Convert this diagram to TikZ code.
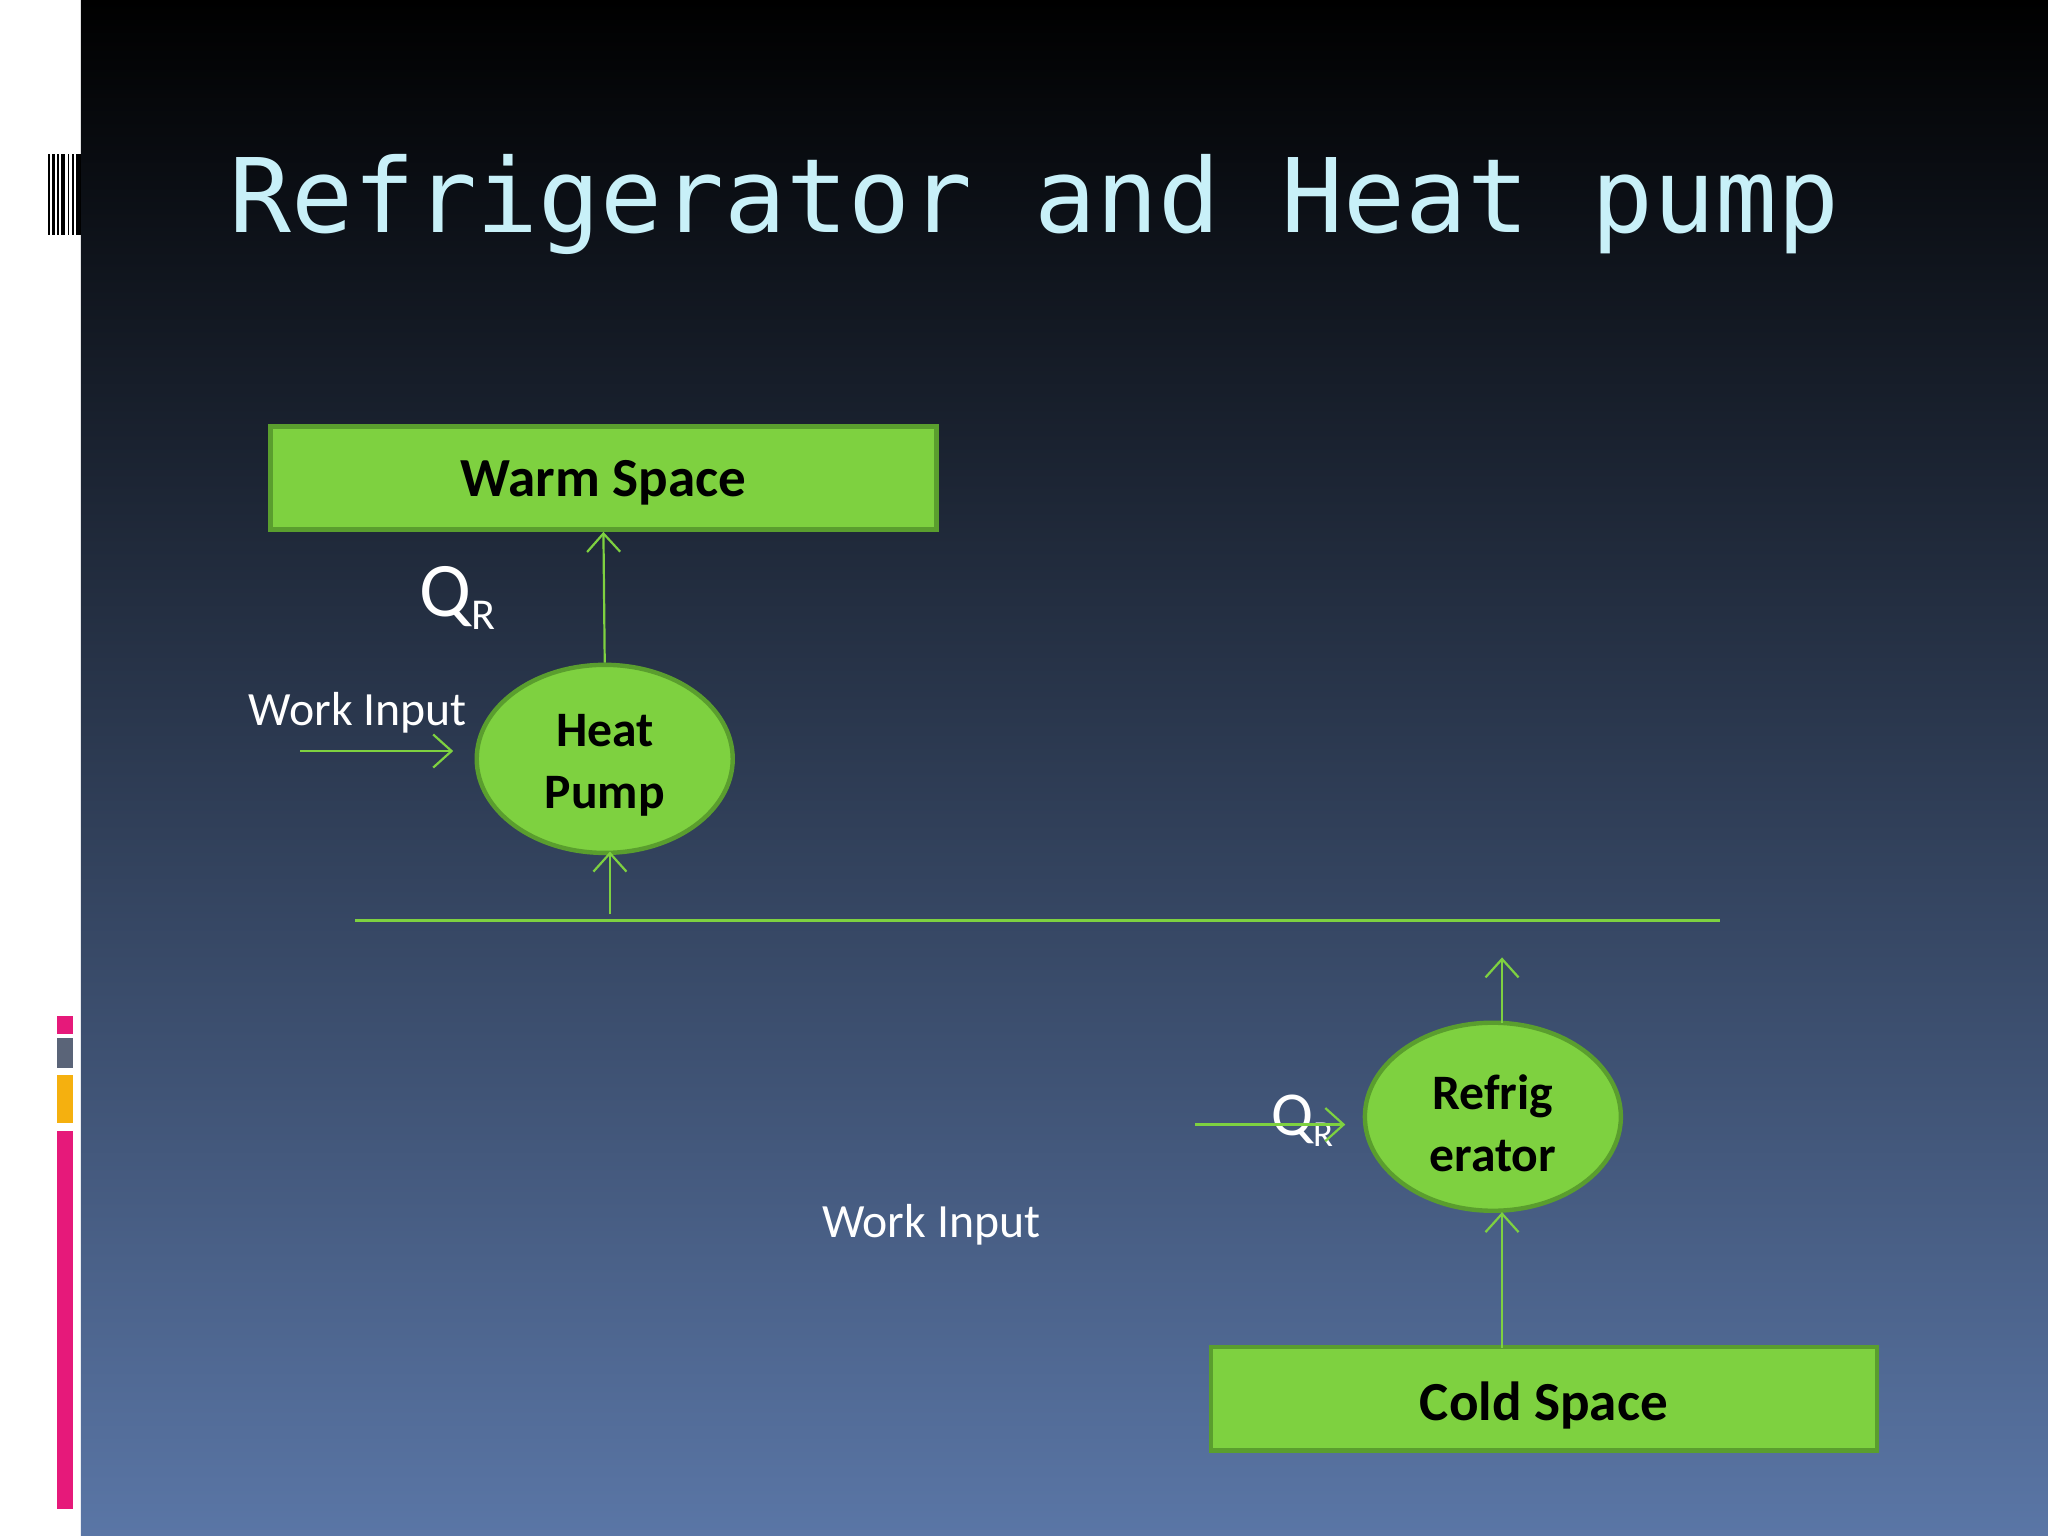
\documentclass[tikz,border=0pt]{standalone}
\usepackage{fontspec}
\setmainfont{Carlito}
\newfontfamily\titlefont{DejaVu Sans Mono}
\usetikzlibrary{arrows.meta,shapes.geometric}
\definecolor{gfill}{HTML}{7ED140}
\definecolor{gline}{HTML}{5A9E2E}
\definecolor{ttl}{HTML}{C8F0F8}
\definecolor{bgbot}{HTML}{5A76A6}
\definecolor{pinkc}{HTML}{E6197A}
\definecolor{grayc}{HTML}{5A6478}
\definecolor{orc}{HTML}{F5B00F}
\newcommand{\subR}[1]{\raisebox{-0.35ex}{\fontsize{#1}{#1}\selectfont R}}
\tikzset{
 box/.style={draw=gline,line width=1.2pt,fill=gfill,minimum width=510*0.0125cm,minimum height=79*0.0125cm,font=\fontsize{15}{18}\selectfont\bfseries},
 oval/.style={ellipse,draw=gline,line width=1.2pt,fill=gfill,minimum width=196*0.0125cm,minimum height=144*0.0125cm,align=center,font=\fontsize{13.5}{17}\selectfont\bfseries},
 arr/.style={draw=gfill,line width=0.6pt,-{Straight Barb[length=5pt,width=9pt]}},
 wlab/.style={text=white,font=\fontsize{13}{15}\selectfont},
}
\begin{document}
\begin{tikzpicture}[x=0.0125cm,y=-0.0125cm]
\useasboundingbox (0,0) rectangle (1568,1176);
\fill[white] (0,0) rectangle (62,1176);
\shade[top color=black,bottom color=bgbot,middle color={rgb:black,1;bgbot,1}] (62,0) rectangle (1568,1176);
\foreach \x/\w in {37/1,40/2,44/1,47/3,52/1,55/2,58/4}{\fill[black] (\x,118) rectangle (\x+\w,180);}
\fill[pinkc] (44,778) rectangle (56,792);
\fill[grayc] (44,795) rectangle (56,818);
\fill[orc] (44,823) rectangle (56,860);
\fill[pinkc] (44,866) rectangle (56,1155);
\node[anchor=base west,text=ttl,font=\titlefont\fontsize{28}{30}\selectfont,inner sep=0] (title) at (175,178) {Refrigerator and Heat pump};
\node[box,text depth=0pt,yshift=-8*0.0125cm] (warm) at (462,358) {Warm Space};
\node[box] (cold) at (1182,1071) {};
\node[font=\fontsize{15}{18}\selectfont\bfseries] (coldt) at (1182,1076) {Cold Space};
\node[oval] (hp) at (463,581) {};
\node[align=center,font=\fontsize{13.5}{17}\selectfont\bfseries] (hpt) at (463,586) {Heat\\Pump};
\node[oval] (rf) at (1143,855) {};
\node[align=center,font=\fontsize{13.5}{17}\selectfont\bfseries] (rft) at (1143,860) {Refrig\\erator};
\node[text=white,font=\fontsize{21}{24}\selectfont] (q1) at (350,458) {Q\subR{12}};
\node[text=white,font=\fontsize{17}{20}\selectfont] (q2) at (997,858) {Q\subR{10}};
\node[wlab] (w1) at (274,546) {Work Input};
\node[wlab] (w2) at (713,938) {Work Input};
\coordinate (la) at (272,705); \coordinate (lb) at (1317,705);
\draw[gfill,line width=0.8pt] (la) -- (lb);
\draw[arr] (hp.north) -- (warm.south);
\coordinate (h0) at (467,700); \coordinate (h1) at (467,652);
\draw[arr] (h0) -- (h1);
\coordinate (a0) at (230,575); \coordinate (a1) at (347,575);
\draw[arr] (a0) -- (a1);
\coordinate (r0) at (1150,783); \coordinate (r1) at (1150,733);
\draw[arr] (r0) -- (r1);
\coordinate (b0) at (915,861); \coordinate (b1) at (1030,861);
\draw[arr] (b0) -- (b1);
\coordinate (c0) at (1150,1032); \coordinate (c1) at (1150,928);
\draw[arr] (c0) -- (c1);
\end{tikzpicture}
\end{document}
